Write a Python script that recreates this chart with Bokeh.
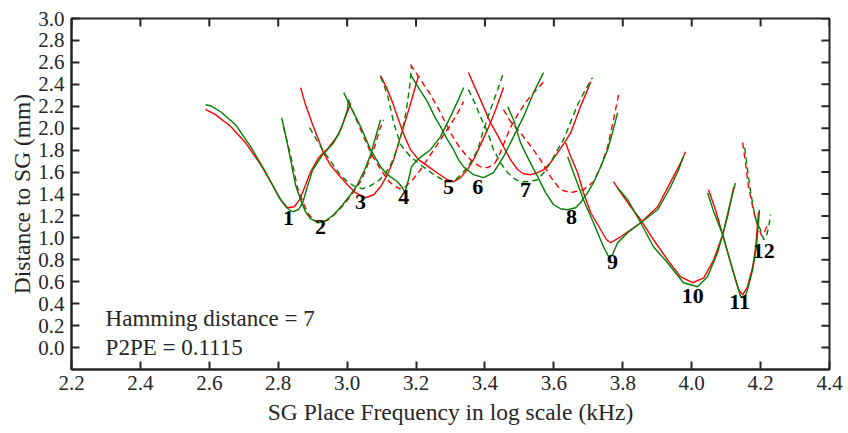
from bokeh.plotting import figure
from bokeh.models import Range1d, FixedTicker, Label, CustomJSTickFormatter
from bokeh.embed import file_html
from bokeh.resources import INLINE
from bokeh.core.properties import value

# ---------------- data (SG place frequency, distance to SG) ----------------
e1_red_x = [2.589, 2.618, 2.662, 2.705, 2.749, 2.783, 2.807, 2.827, 2.847, 2.862, 2.876, 2.894, 2.917, 2.946, 2.975, 2.998, 3.010]
e1_red_y = [2.171, 2.124, 2.015, 1.868, 1.667, 1.485, 1.348, 1.275, 1.284, 1.348, 1.457, 1.603, 1.731, 1.822, 1.941, 2.124, 2.224]
e1_grn_x = [2.589, 2.603, 2.633, 2.676, 2.720, 2.763, 2.801, 2.824, 2.842, 2.859, 2.871, 2.882, 2.900, 2.929, 2.961, 2.984, 3.001, 3.004]
e1_grn_y = [2.214, 2.205, 2.150, 2.032, 1.831, 1.603, 1.375, 1.275, 1.238, 1.257, 1.320, 1.439, 1.621, 1.758, 1.868, 2.005, 2.171, 2.260]

e2_red_x = [2.815, 2.827, 2.842, 2.856, 2.871, 2.885, 2.902, 2.923, 2.946, 2.969, 2.995, 3.019, 3.042, 3.062, 3.080, 3.094, 3.106]
e2_red_y = [2.014, 1.868, 1.667, 1.457, 1.330, 1.229, 1.165, 1.138, 1.165, 1.229, 1.321, 1.421, 1.530, 1.685, 1.831, 1.986, 2.077]
e2_grn_x = [2.891, 2.911, 2.931, 2.955, 2.978, 3.001, 3.024, 3.045, 3.068, 3.091, 3.111, 3.129, 3.146, 3.161, 3.172, 3.181, 3.187]
e2_grn_y = [2.005, 1.895, 1.795, 1.685, 1.585, 1.512, 1.466, 1.448, 1.476, 1.521, 1.585, 1.685, 1.822, 1.986, 2.169, 2.370, 2.570]

e3_red_x = [2.865, 2.879, 2.900, 2.917, 2.931, 2.951, 2.975, 3.001, 3.024, 3.053, 3.077, 3.097, 3.117, 3.135, 3.155, 3.172, 3.190, 3.207]
e3_red_y = [2.370, 2.215, 2.032, 1.895, 1.777, 1.667, 1.576, 1.485, 1.412, 1.366, 1.393, 1.466, 1.576, 1.713, 1.923, 2.096, 2.287, 2.479]
e3_grn_x = [2.810, 2.821, 2.836, 2.850, 2.865, 2.879, 2.894, 2.917, 2.937, 2.961, 2.987, 3.010, 3.030, 3.051, 3.068, 3.082, 3.097]
e3_grn_y = [2.096, 1.941, 1.713, 1.485, 1.348, 1.238, 1.174, 1.138, 1.156, 1.211, 1.302, 1.393, 1.485, 1.621, 1.758, 1.913, 2.077]

e4_red_x = [3.004, 3.024, 3.048, 3.071, 3.094, 3.117, 3.135, 3.152, 3.169, 3.190, 3.213, 3.242, 3.271, 3.300, 3.323, 3.338]
e4_red_y = [2.260, 2.096, 1.923, 1.758, 1.640, 1.530, 1.476, 1.448, 1.466, 1.530, 1.621, 1.758, 1.895, 2.032, 2.151, 2.242]
e4_grn_x = [3.097, 3.117, 3.135, 3.155, 3.184, 3.213, 3.248, 3.286, 3.315, 3.338, 3.358, 3.379, 3.396, 3.416, 3.437, 3.454]
e4_grn_y = [2.470, 2.306, 2.050, 1.850, 1.740, 1.667, 1.585, 1.512, 1.530, 1.603, 1.685, 1.804, 1.986, 2.169, 2.352, 2.507]

e5_red_x = [3.097, 3.114, 3.132, 3.149, 3.167, 3.184, 3.207, 3.236, 3.265, 3.291, 3.309, 3.329, 3.349, 3.370, 3.390, 3.410, 3.431, 3.454]
e5_red_y = [2.479, 2.370, 2.233, 2.077, 1.923, 1.804, 1.713, 1.649, 1.585, 1.530, 1.512, 1.549, 1.621, 1.731, 1.868, 2.005, 2.169, 2.370]
e5_grn_x = [2.990, 3.010, 3.039, 3.068, 3.097, 3.117, 3.146, 3.161, 3.167, 3.178, 3.187, 3.204, 3.242, 3.271, 3.300, 3.323, 3.338]
e5_grn_y = [2.324, 2.196, 2.014, 1.804, 1.649, 1.576, 1.512, 1.457, 1.412, 1.530, 1.649, 1.713, 1.804, 1.923, 2.105, 2.260, 2.370]

e6_red_x = [3.184, 3.213, 3.242, 3.271, 3.300, 3.323, 3.344, 3.367, 3.387, 3.408, 3.428, 3.442, 3.457, 3.474, 3.498, 3.524, 3.550, 3.576]
e6_red_y = [2.579, 2.443, 2.306, 2.141, 1.959, 1.840, 1.758, 1.685, 1.649, 1.640, 1.676, 1.758, 1.877, 2.005, 2.141, 2.260, 2.352, 2.443]
e6_grn_x = [3.352, 3.370, 3.387, 3.408, 3.425, 3.445, 3.466, 3.486, 3.503, 3.527, 3.553, 3.573, 3.590, 3.611, 3.628, 3.649, 3.669, 3.692, 3.712]
e6_grn_y = [2.352, 2.233, 2.105, 1.959, 1.804, 1.685, 1.594, 1.539, 1.512, 1.512, 1.530, 1.603, 1.685, 1.804, 1.895, 2.059, 2.214, 2.352, 2.461]

e7_red_x = [3.352, 3.370, 3.387, 3.402, 3.416, 3.437, 3.454, 3.474, 3.495, 3.512, 3.532, 3.553, 3.570, 3.590, 3.611, 3.631, 3.649, 3.663, 3.677, 3.692, 3.707]
e7_red_y = [2.507, 2.379, 2.260, 2.151, 2.050, 1.932, 1.831, 1.713, 1.621, 1.585, 1.576, 1.594, 1.621, 1.685, 1.777, 1.868, 1.959, 2.077, 2.196, 2.306, 2.424]
e7_grn_x = [3.184, 3.207, 3.233, 3.254, 3.271, 3.291, 3.309, 3.323, 3.338, 3.367, 3.396, 3.425, 3.454, 3.483, 3.512, 3.541, 3.570]
e7_grn_y = [2.488, 2.370, 2.242, 2.105, 2.014, 1.895, 1.804, 1.713, 1.649, 1.576, 1.549, 1.594, 1.740, 1.923, 2.105, 2.324, 2.507]

e8_red_x = [3.454, 3.474, 3.503, 3.532, 3.561, 3.590, 3.619, 3.649, 3.686, 3.715, 3.736, 3.756, 3.773, 3.788]
e8_red_y = [2.169, 2.059, 1.959, 1.840, 1.713, 1.558, 1.439, 1.412, 1.439, 1.512, 1.649, 1.831, 2.077, 2.306]
e8_grn_x = [3.466, 3.483, 3.503, 3.527, 3.553, 3.576, 3.599, 3.619, 3.640, 3.663, 3.677, 3.698, 3.715, 3.736, 3.756, 3.770, 3.785]
e8_grn_y = [2.196, 2.077, 1.868, 1.713, 1.558, 1.412, 1.302, 1.266, 1.257, 1.275, 1.320, 1.412, 1.503, 1.649, 1.804, 1.959, 2.141]

e9_red_x = [3.634, 3.649, 3.669, 3.686, 3.707, 3.736, 3.753, 3.765, 3.779, 3.794, 3.823, 3.852, 3.901, 3.947, 3.968, 3.982]
e9_red_y = [1.868, 1.740, 1.594, 1.412, 1.229, 1.074, 0.983, 0.956, 0.983, 1.010, 1.074, 1.138, 1.284, 1.558, 1.685, 1.786]
e9_grn_x = [3.640, 3.657, 3.686, 3.715, 3.744, 3.759, 3.770, 3.785, 3.814, 3.852, 3.901, 3.939, 3.962, 3.976]
e9_grn_y = [1.740, 1.594, 1.348, 1.138, 0.919, 0.828, 0.846, 0.956, 1.047, 1.138, 1.256, 1.466, 1.621, 1.740]

e10_red_x = [3.773, 3.794, 3.823, 3.852, 3.889, 3.930, 3.968, 4.003, 4.035, 4.064, 4.090, 4.104, 4.122]
e10_red_y = [1.512, 1.412, 1.284, 1.165, 0.983, 0.800, 0.645, 0.591, 0.636, 0.800, 1.028, 1.192, 1.466]
e10_grn_x = [3.785, 3.814, 3.852, 3.889, 3.930, 3.976, 4.017, 4.046, 4.075, 4.090, 4.107, 4.127]
e10_grn_y = [1.457, 1.348, 1.138, 0.919, 0.773, 0.591, 0.554, 0.645, 0.864, 1.028, 1.256, 1.500]

e11_red_x = [4.049, 4.069, 4.090, 4.113, 4.136, 4.148, 4.162, 4.177, 4.186, 4.194]
e11_red_y = [1.439, 1.257, 1.028, 0.773, 0.527, 0.481, 0.554, 0.736, 0.919, 1.238]
e11_grn_x = [4.046, 4.064, 4.090, 4.119, 4.142, 4.154, 4.162, 4.177, 4.188, 4.197]
e11_grn_y = [1.411, 1.238, 1.028, 0.709, 0.463, 0.453, 0.527, 0.709, 0.919, 1.257]

e12_red_x = [4.148, 4.156, 4.165, 4.177, 4.186, 4.194, 4.203, 4.212, 4.220]
e12_red_y = [1.868, 1.685, 1.466, 1.284, 1.165, 1.092, 1.019, 1.056, 1.120]
e12_grn_x = [4.154, 4.162, 4.171, 4.180, 4.188, 4.200, 4.209, 4.217, 4.223, 4.229]
e12_grn_y = [1.823, 1.621, 1.421, 1.257, 1.147, 1.074, 0.983, 1.019, 1.092, 1.211]

# electrode number labels
label_text = ["1", "2", "3", "4", "5", "6", "7", "8", "9", "10", "11", "12"]
label_x = [2.830, 2.923, 3.039, 3.164, 3.294, 3.379, 3.518, 3.651, 3.770, 4.003, 4.139, 4.209]
label_y = [1.183, 1.101, 1.329, 1.375, 1.466, 1.466, 1.439, 1.192, 0.782, 0.472, 0.418, 0.883]

x_ticks = [2.2, 2.4, 2.6, 2.8, 3.0, 3.2, 3.4, 3.6, 3.8, 4.0, 4.2, 4.4]
y_ticks = [0.0, 0.2, 0.4, 0.6, 0.8, 1.0, 1.2, 1.4, 1.6, 1.8, 2.0, 2.2, 2.4, 2.6, 2.8, 3.0]

hamming_text = "Hamming distance = 7"
p2pe_text = "P2PE = 0.1115"

red_curves = [
    (e1_red_x, e1_red_y, "solid"), (e2_red_x, e2_red_y, "dashed"), (e3_red_x, e3_red_y, "solid"),
    (e4_red_x, e4_red_y, "dashed"), (e5_red_x, e5_red_y, "solid"), (e6_red_x, e6_red_y, "dashed"),
    (e7_red_x, e7_red_y, "solid"), (e8_red_x, e8_red_y, "dashed"), (e9_red_x, e9_red_y, "solid"),
    (e10_red_x, e10_red_y, "solid"), (e11_red_x, e11_red_y, "solid"), (e12_red_x, e12_red_y, "dashed"),
]
grn_curves = [
    (e1_grn_x, e1_grn_y, "solid"), (e2_grn_x, e2_grn_y, "dashed"), (e3_grn_x, e3_grn_y, "solid"),
    (e4_grn_x, e4_grn_y, "dashed"), (e5_grn_x, e5_grn_y, "solid"), (e6_grn_x, e6_grn_y, "dashed"),
    (e7_grn_x, e7_grn_y, "solid"), (e8_grn_x, e8_grn_y, "solid"), (e9_grn_x, e9_grn_y, "solid"),
    (e10_grn_x, e10_grn_y, "solid"), (e11_grn_x, e11_grn_y, "solid"), (e12_grn_x, e12_grn_y, "dashed"),
]

FONT = "Liberation Serif"
AX = "#262626"
RED = "#ff0000"
GREEN = "#008000"

X0, X1 = 2.2, 4.4
Y0, Y1 = -0.2, 3.0
TICK_DX = 0.0232   # inward tick length along x (about 8 px)
TICK_DY = 0.073    # inward tick length along y (about 8 px)

p = figure(width=848, height=433, output_backend="svg", toolbar_location=None,
           x_range=Range1d(X0, X1), y_range=Range1d(Y0, Y1),
           min_border_left=71, min_border_right=19, min_border_top=18, min_border_bottom=64)
p.background_fill_color = "white"
p.border_fill_color = "white"
p.grid.visible = False
p.outline_line_color = AX
p.outline_line_width = 2

for xs, ys, dash in red_curves:
    p.line(xs, ys, line_color=RED, line_width=1.4, line_dash=("6 4" if dash == "dashed" else "solid"))
for xs, ys, dash in grn_curves:
    p.line(xs, ys, line_color=GREEN, line_width=1.4, line_dash=("6 4" if dash == "dashed" else "solid"))

p.text(x=label_x, y=label_y, text=label_text, text_font=value(FONT), text_font_style="bold",
       text_font_size="22px", text_align="center", text_baseline="middle", text_color="black")

# inward ticks along the top and right sides of the box
p.segment(x0=x_ticks, y0=[Y1] * len(x_ticks), x1=x_ticks, y1=[Y1 - TICK_DY] * len(x_ticks),
          line_color=AX, line_width=2)
p.segment(x0=[X1] * len(y_ticks), y0=y_ticks, x1=[X1 - TICK_DX] * len(y_ticks), y1=y_ticks,
          line_color=AX, line_width=2)

fmt = CustomJSTickFormatter(code="return tick.toFixed(1);")
for ax, ticks in ((p.xaxis[0], x_ticks), (p.yaxis[0], y_ticks)):
    ax.ticker = FixedTicker(ticks=ticks)
    ax.formatter = fmt
    ax.axis_line_color = AX
    ax.axis_line_width = 2
    ax.major_tick_line_color = AX
    ax.major_tick_line_width = 2
    ax.major_tick_in = 8
    ax.major_tick_out = 0
    ax.minor_tick_line_color = None
    ax.major_label_text_font = FONT
    ax.major_label_text_color = AX
    ax.major_label_text_font_size = "21px"
    ax.axis_label_text_font = FONT
    ax.axis_label_text_font_style = "normal"
    ax.axis_label_text_color = AX
    ax.axis_label_text_font_size = "23.5px"

p.xaxis.axis_label = "SG Place Frequency in log scale (kHz)"
p.yaxis.axis_label = "Distance to SG (mm)"
p.xaxis.major_label_standoff = 6
p.xaxis.axis_label_standoff = 6
p.yaxis.major_label_standoff = 7
p.yaxis.axis_label_standoff = 0

p.add_layout(Label(x=2.299, y=0.262, text=hamming_text, text_font=FONT, text_font_size="23px",
                   text_baseline="middle", text_align="left", text_color=AX))
p.add_layout(Label(x=2.299, y=-0.003, text=p2pe_text, text_font=FONT, text_font_size="23px",
                   text_baseline="middle", text_align="left", text_color=AX))

open("out.html", "w").write(file_html(p, INLINE))
